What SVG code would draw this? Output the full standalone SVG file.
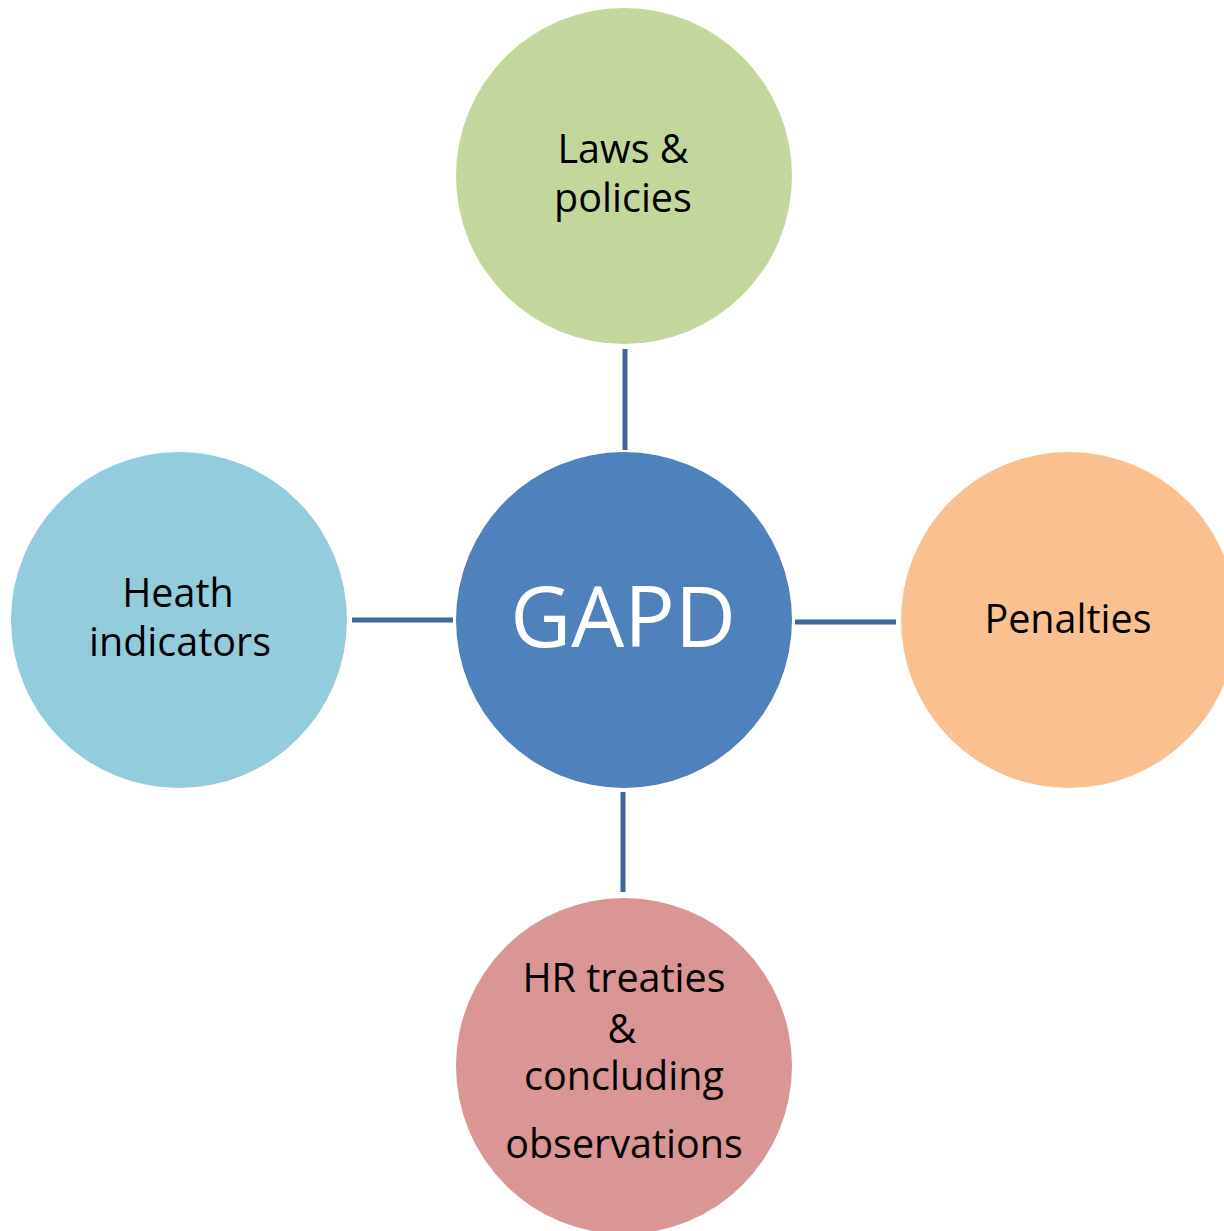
<svg xmlns="http://www.w3.org/2000/svg" width="1224" height="1231" viewBox="0 0 1224 1231">
<style>
.lbl{font-family:"Open Sans","Noto Sans","DejaVu Sans",sans-serif;font-size:39.5px;fill:#000;text-anchor:middle}
.big{font-family:"Open Sans","Noto Sans","DejaVu Sans",sans-serif;font-size:84px;fill:#fff;text-anchor:middle}
.conn{stroke:#41679A;stroke-width:5;fill:none}
</style>
<rect width="1224" height="1231" fill="#fff"/>
<g id="connectors">
<line class="conn" x1="625" y1="349" x2="625" y2="450"/>
<line class="conn" x1="352" y1="620" x2="453" y2="620"/>
<line class="conn" x1="795" y1="622" x2="896" y2="622"/>
<line class="conn" x1="623" y1="792" x2="623" y2="892"/>
</g>
<g id="laws">
<circle cx="624" cy="176" r="168" fill="#C3D69B"/>
<text class="lbl" x="623" y="163">Laws &amp;</text>
<text class="lbl" x="623" y="212">policies</text>
</g>
<g id="gapd">
<circle cx="624" cy="620" r="168" fill="#4F81BD"/>
<text class="big" x="623" y="647">GAPD</text>
</g>
<g id="health">
<circle cx="179" cy="620" r="168" fill="#93CDDD"/>
<text class="lbl" x="178" y="607">Heath</text>
<text class="lbl" x="180" y="656">indicators</text>
</g>
<g id="penalties">
<circle cx="1069" cy="620" r="168" fill="#FAC090"/>
<text class="lbl" x="1068" y="633">Penalties</text>
</g>
<g id="hr">
<circle cx="624" cy="1066" r="168" fill="#D99694"/>
<text class="lbl" x="624" y="992">HR treaties</text>
<text class="lbl" x="622" y="1043">&amp;</text>
<text class="lbl" x="624" y="1090">concluding</text>
<text class="lbl" x="624" y="1158">observations</text>
</g>
</svg>
